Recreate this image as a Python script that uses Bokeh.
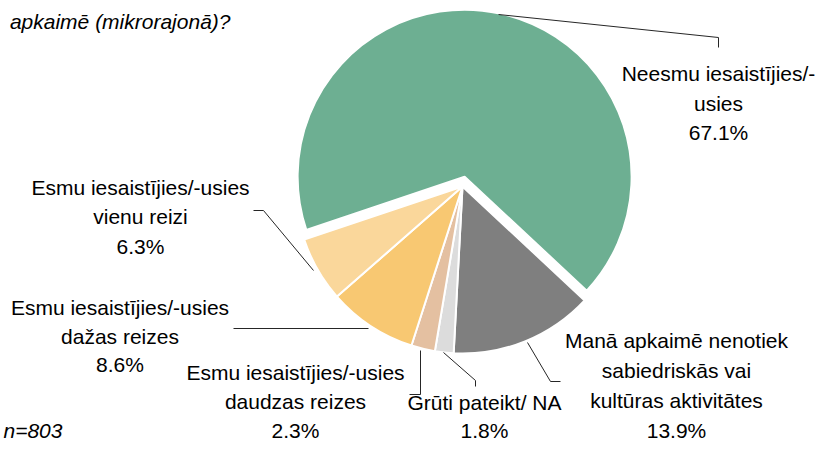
import math
from bokeh.plotting import figure
from bokeh.models import Range1d, ColumnDataSource
from bokeh.core.properties import value
from bokeh.embed import file_html
from bokeh.resources import INLINE

# ---- data (clockwise order, starting at the grey slice) ----
categories = [
    "Manā apkaimē nenotiek sabiedriskās vai kultūras aktivitātes",
    "Grūti pateikt/ NA",
    "Esmu iesaistījies/-usies daudzas reizes",
    "Esmu iesaistījies/-usies dažas reizes",
    "Esmu iesaistījies/-usies vienu reizi",
    "Neesmu iesaistījies/-usies",
]
values = [13.9, 1.8, 2.3, 8.6, 6.3, 67.1]
label_lines = [
    ["Manā apkaimē nenotiek", "sabiedriskās vai", "kultūras aktivitātes"],
    ["Grūti pateikt/ NA"],
    ["Esmu iesaistījies/-usies", "daudzas reizes"],
    ["Esmu iesaistījies/-usies", "dažas reizes"],
    ["Esmu iesaistījies/-usies", "vienu reizi"],
    ["Neesmu iesaistījies/-", "usies"],
]
title_text = "apkaimē (mikrorajonā)?"
note_text = "n=803"

# ---- styles / layout ----
colors = ["#7f7f7f", "#dcdcdc", "#e4c0a1", "#f8c872", "#fad79b", "#6daf92"]
explode = [0, 0, 0, 0, 0, 10]
PW, PH = 818, 443
CX, CY, R = 462, 186, 167          # pixel coords from top-left
START = 133.0                      # clockwise degrees from 12 o'clock
FONT = value("Liberation Sans")
FS = "21px"
# label anchors: centre x, baselines (pixels from top)
label_pos = [
    (676, [340, 370, 400, 430]),
    (484, [402, 430]),
    (295, [372, 401, 430]),
    (119.5, [307, 335.5, 364]),
    (140, [187, 216, 245.5]),
    (718, [73, 102.5, 132]),
]
# leader lines (pixels)
leaders = [
    [(527, 342), (550, 381), (560, 381)],
    [(443, 352), (475, 380), (475, 386)],
    [(420, 350), (420, 394), (409, 394)],
    [(368, 328), (233, 328)],
    [(313, 270), (263, 210), (253, 210)],
    [(498, 14), (718, 37), (718, 47)],
]


def fy(y):
    return PH - y


p = figure(width=PW, height=PH, x_range=Range1d(0, PW), y_range=Range1d(0, PH),
           output_backend="svg", toolbar_location=None, min_border=0,
           x_axis_location=None, y_axis_location=None)
p.grid.visible = False
p.outline_line_color = None
p.background_fill_color = "white"
p.border_fill_color = "white"

total = sum(values)
xs, ys, sa, ea = [], [], [], []
cum = 0.0
for v, d in zip(values, explode):
    t0 = START + cum / total * 360.0
    t1 = t0 + v / total * 360.0
    cum += v
    tm = math.radians((t0 + t1) / 2)
    xs.append(CX + d * math.sin(tm))
    ys.append(fy(CY) + d * math.cos(tm))
    sa.append(math.radians(90 - t1))
    ea.append(math.radians(90 - t0))

src = ColumnDataSource(dict(x=xs, y=ys, start=sa, end=ea, color=colors, cat=categories, val=values))
p.wedge(x="x", y="y", radius=R, start_angle="start", end_angle="end", fill_color="color",
        line_color="white", line_width=2, source=src)

# leader lines
for pts in leaders:
    p.line([q[0] for q in pts], [fy(q[1]) for q in pts], line_color="#262626", line_width=1)

# labels
tx, ty, tt = [], [], []
for (cx, bases), lines, v in zip(label_pos, label_lines, values):
    allines = lines + ["%.1f%%" % v]
    for ln, by in zip(allines, bases):
        tx.append(cx)
        ty.append(fy(by))
        tt.append(ln)
p.text(x=tx, y=ty, text=tt, text_font=FONT, text_font_size=FS, text_align="center",
       text_baseline="alphabetic", text_color="#000000")

# question fragment (top-left) and sample size (bottom-left)
p.text(x=[230], y=[fy(21)], text=[title_text], text_font=FONT, text_font_size=FS,
       text_font_style="italic", text_align="right", text_baseline="alphabetic", text_color="#000000")
p.text(x=[3], y=[fy(430)], text=[note_text], text_font=FONT, text_font_size=FS,
       text_font_style="italic", text_align="left", text_baseline="alphabetic", text_color="#000000")

open("out.html", "w").write(file_html(p, INLINE))
